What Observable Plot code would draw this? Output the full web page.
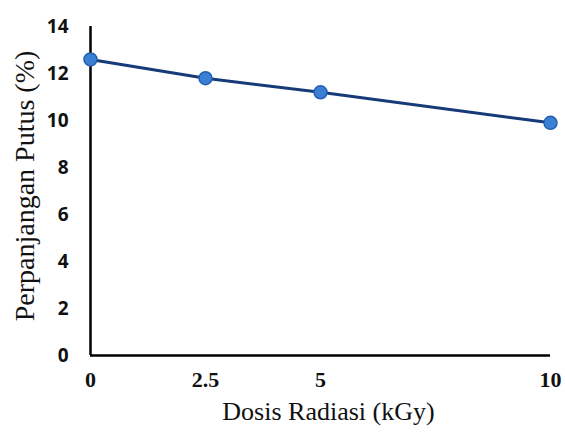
<!DOCTYPE html>
<html>
<head>
<meta charset="utf-8">
<script src="https://cdn.jsdelivr.net/npm/d3@7"></script>
<script src="https://cdn.jsdelivr.net/npm/@observablehq/plot@0.6"></script>
<style>
  html, body { margin: 0; padding: 0; background: #fff; }
</style>
</head>
<body>
<div id="chart"></div>
<script>
// Elongation at break versus radiation dose
const doses = [0, 2.5, 5, 10];
const elongation = [12.6, 11.8, 11.2, 9.9];
const xTicks = [0, 2.5, 5, 10];
const yTicks = [0, 2, 4, 6, 8, 10, 12, 14];
const xTitle = "Dosis Radiasi (kGy)";
const yTitle = "Perpanjangan Putus (%)";

const data = doses.map((d, i) => ({dose: d, value: elongation[i]}));

const chart = Plot.plot({
  width: 565,
  height: 441,
  marginLeft: 90,
  marginRight: 15,
  marginTop: 26,
  marginBottom: 86,
  style: {background: "#fff"},
  x: {domain: [0, 10]},
  y: {domain: [0, 14]},
  marks: [
    Plot.axisX({
      ticks: xTicks, tickSize: 0, tickPadding: 16, label: null,
      fontFamily: "Liberation Serif", fontWeight: "bold", fontSize: 22, fill: "#111",
      tickFormat: d => String(d)
    }),
    Plot.axisY({
      ticks: yTicks, tickSize: 0, tickPadding: 22, label: null,
      fontFamily: "Open Sans", fontWeight: "bold", fontSize: 19, fill: "#111"
    }),
    Plot.ruleX([0], {stroke: "#000", strokeWidth: 2.5}),
    Plot.ruleY([0], {stroke: "#000", strokeWidth: 2.5}),
    Plot.line(data, {x: "dose", y: "value", stroke: "#173a78", strokeWidth: 3}),
    Plot.dot(data, {x: "dose", y: "value", r: 6.5, fill: "#3b7fd4", stroke: "#2560b0", strokeWidth: 1.5}),
    Plot.text([xTitle], {
      frameAnchor: "bottom", dy: 64, dx: 8, text: d => d,
      fontFamily: "Liberation Serif", fontSize: 26, fill: "#111"
    }),
    Plot.text([yTitle], {
      frameAnchor: "left", dx: -65, dy: -5, rotate: -90, text: d => d,
      textAnchor: "middle",
      fontFamily: "Liberation Serif", fontSize: 28, fill: "#111"
    })
  ]
});

document.getElementById("chart").appendChild(chart);
</script>
</body>
</html>
